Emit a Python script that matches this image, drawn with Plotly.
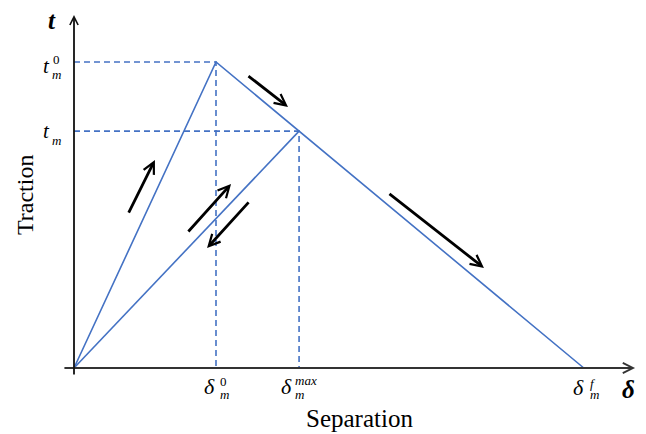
import plotly.graph_objects as go

# Bilinear traction-separation law (normalised units)
delta_0 = 1.0      # separation at damage onset
delta_max = 1.585  # maximum separation reached before unloading
delta_f = 3.59     # separation at complete failure
t_0 = 1.0          # peak traction
t_m = 0.774        # traction at delta_max on the softening branch

# Direction arrows along the branches: (tail_x, tail_y, head_x, head_y)
arrow_tails_x = [0.380, 0.796, 1.239, 1.218, 2.211]
arrow_tails_y = [0.503, 0.441, 0.546, 0.958, 0.573]
arrow_heads_x = [0.570, 1.106, 0.937, 1.507, 2.887]
arrow_heads_y = [0.680, 0.601, 0.392, 0.853, 0.327]

BLUE = "#4472C4"
FONT = "Liberation Serif, Times New Roman, serif"

fig = go.Figure()

# loading + softening envelope
fig.add_trace(go.Scatter(x=[0, delta_0, delta_f], y=[0, t_0, 0], mode="lines",
                         line=dict(color=BLUE, width=1.6), hoverinfo="skip"))
# unloading / reloading path
fig.add_trace(go.Scatter(x=[0, delta_max], y=[0, t_m], mode="lines",
                         line=dict(color=BLUE, width=1.6), hoverinfo="skip"))
# guide lines
for gx, gy in [(delta_0, t_0), (delta_max, t_m)]:
    fig.add_trace(go.Scatter(x=[0, gx, gx], y=[gy, gy, 0], mode="lines",
                             line=dict(color=BLUE, width=1.6, dash="6px,4px"),
                             hoverinfo="skip"))

ann = []
# axes with arrowheads
ann.append(dict(x=3.951, y=0, ax=-0.078, ay=0, xref="x", yref="y", axref="x", ayref="y",
                showarrow=True, arrowhead=5, arrowsize=0.9, arrowwidth=2.2,
                arrowcolor="#333333", text=""))
ann.append(dict(x=0, y=1.1536, ax=0, ay=-0.026, xref="x", yref="y", axref="x", ayref="y",
                showarrow=True, arrowhead=5, arrowsize=0.9, arrowwidth=1.8,
                arrowcolor="#111111", text=""))

# direction arrows
for tx, ty, hx, hy in zip(arrow_tails_x, arrow_tails_y, arrow_heads_x, arrow_heads_y):
    ann.append(dict(x=hx, y=hy, ax=tx, ay=ty, xref="x", yref="y", axref="x", ayref="y",
                    showarrow=True, arrowhead=5, arrowsize=0.8, arrowwidth=2.8,
                    arrowcolor="black", text=""))


def label(x, y, text, size, dx, dy, xanchor="center"):
    ann.append(dict(x=x, y=y, xref="x", yref="y", text=text, showarrow=False,
                    xanchor=xanchor, yanchor="middle", xshift=dx, yshift=-dy,
                    font=dict(family=FONT, size=size, color="black")))


# traction tick labels
label(0, t_0, "<i>t</i>", 21, -27.5, 4)
label(0, t_0, "<i>m</i>", 13, -24, 12, xanchor="left")
label(0, t_0, "0", 13, -23, -3, xanchor="left")
label(0, t_m, "<i>t</i>", 21, -27.5, 0)
label(0, t_m, "<i>m</i>", 13, -24, 9, xanchor="left")

# separation tick labels
label(delta_0, 0, "<i>δ</i>", 22, -7, 18)
label(delta_0, 0, "0", 13, 2, 13, xanchor="left")
label(delta_0, 0, "<i>m</i>", 13, 2, 26, xanchor="left")
label(delta_max, 0, "<i>δ</i>", 22, -13, 18)
label(delta_max, 0, "<i>max</i>", 13, -6, 12, xanchor="left")
label(delta_max, 0, "<i>m</i>", 13, -6, 26, xanchor="left")
label(delta_f, 0, "<i>δ</i>", 22, -5, 19)
label(delta_f, 0, "<i>f</i>", 13, 4, 15, xanchor="left")
label(delta_f, 0, "<i>m</i>", 13, 4, 26, xanchor="left")

# axis symbols
ann.append(dict(x=52, y=21, xref="paper", yref="paper", text="<b><i>t</i></b>", showarrow=False,
                font=dict(family=FONT, size=25, color="black")))
ann.append(dict(x=628, y=389, xref="paper", yref="paper", text="<b><i>δ</i></b>", showarrow=False,
                font=dict(family=FONT, size=25, color="black")))
# axis titles
ann.append(dict(x=359, y=418, xref="paper", yref="paper", text="Separation", showarrow=False,
                font=dict(family=FONT, size=25, color="black")))
ann.append(dict(x=25, y=195, xref="paper", yref="paper", text="Traction", showarrow=False,
                textangle=-90, font=dict(family=FONT, size=24, color="black")))

# convert the paper-pixel annotations into paper fractions
W, H = 646, 434
for a in ann:
    if a.get("xref") == "paper":
        a["x"] = a["x"] / W
        a["y"] = 1 - a["y"] / H
        a["xanchor"] = "center"
        a["yanchor"] = "middle"

fig.update_layout(
    width=W, height=H, margin=dict(l=0, r=0, t=0, b=0),
    paper_bgcolor="white", plot_bgcolor="white", showlegend=False,
    xaxis=dict(range=[-74 / 142, (W - 74) / 142], visible=False, fixedrange=True),
    yaxis=dict(range=[-(H - 368) / 306, 368 / 306], visible=False, fixedrange=True),
    annotations=ann,
)

fig.write_html("out.html")
